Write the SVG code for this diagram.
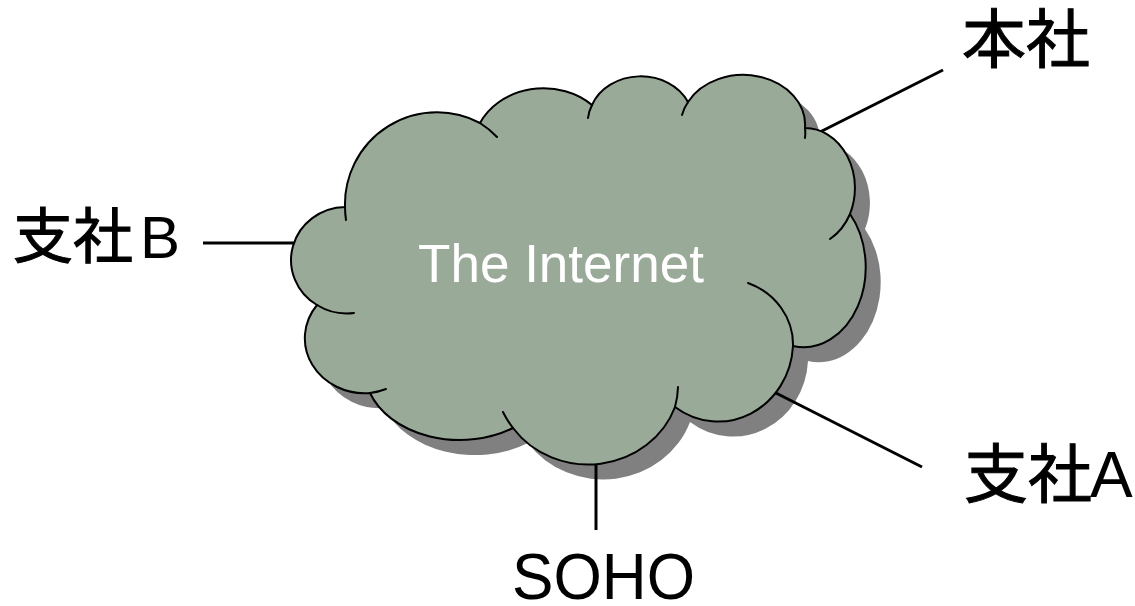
<svg xmlns="http://www.w3.org/2000/svg" width="1135" height="606" viewBox="0 0 1135 606">
  <style>
    .label { font-family: "Liberation Sans", "Noto Sans CJK JP", sans-serif; fill: #000; }
    .cjk { stroke: #000; stroke-width: 1; }
    .link { stroke: #000; stroke-width: 3; fill: none; }
    .cloud-edge { stroke: #000; stroke-width: 2; fill: none; stroke-linecap: round; stroke-linejoin: round; }
  </style>
  <defs>
    <!-- cloud outline: eleven elliptical lobes, clockwise from the lower-left lobe -->
    <path id="cloud-shape" d="M 317 305
      A 55 53 0 0 1 345 207
      A 92 92 0 0 1 480 123
      A 70 60 0 0 1 592 105
      A 52 44 0 0 1 688 102
      A 62 50 0 0 1 805 128
      A 50 60 0 0 1 850 214
      A 62 80 0 0 1 793 346
      A 75 80 0 0 1 675 407
      A 92 86 0 0 1 513 428
      A 95 70 0 0 1 370 393
      A 60 55 0 0 1 317 305 Z"/>
  </defs>

  <!-- drop shadow under the cloud -->
  <use href="#cloud-shape" transform="translate(15 15)" fill="#808080"/>

  <g id="connectors">
    <line class="link" x1="818" y1="133" x2="943" y2="70"/>
    <line class="link" x1="203" y1="243" x2="297" y2="243"/>
    <line class="link" x1="772" y1="391" x2="922" y2="467"/>
    <line class="link" x1="596" y1="458" x2="596" y2="530"/>
  </g>

  <g id="internet">
    <use href="#cloud-shape" fill="#9AAA99" stroke="#000" stroke-width="2"/>
    <!-- short lobe arcs that run on into the cloud body -->
    <path class="cloud-edge" d="M 317 305 A 55 53 0 0 0 354 313
      M 345 207 A 92 92 0 0 0 346 220
      M 480 123 A 92 92 0 0 1 497 137
      M 592 105 A 52 44 0 0 0 588 118
      M 688 102 A 62 50 0 0 0 682 115
      M 805 128 A 62 50 0 0 1 805 138
      M 850 214 A 50 60 0 0 1 830 239
      M 793 346 A 70 66 0 0 0 748 283
      M 675 407 A 92 86 0 0 0 678 387
      M 513 428 A 92 86 0 0 1 503 412
      M 370 393 A 60 55 0 0 0 386 389"/>
    <text x="418" y="282" font-family="Liberation Sans, sans-serif" font-size="53" fill="#FFFFFF" textLength="286" lengthAdjust="spacingAndGlyphs">The Internet</text>
  </g>

  <g id="honsha">
    <text class="label" x="962" y="62" font-size="64"><tspan class="cjk">本社</tspan></text>
  </g>

  <g id="shisha-b">
    <text class="label" x="13" y="258" font-size="60"><tspan class="cjk">支社</tspan><tspan x="140">B</tspan></text>
  </g>

  <g id="shisha-a">
    <text class="label" x="964" y="497" font-size="64"><tspan class="cjk">支社</tspan><tspan x="1090">A</tspan></text>
  </g>

  <g id="soho">
    <text class="label" x="512" y="599" font-size="64" textLength="183" lengthAdjust="spacingAndGlyphs">SOHO</text>
  </g>
</svg>
